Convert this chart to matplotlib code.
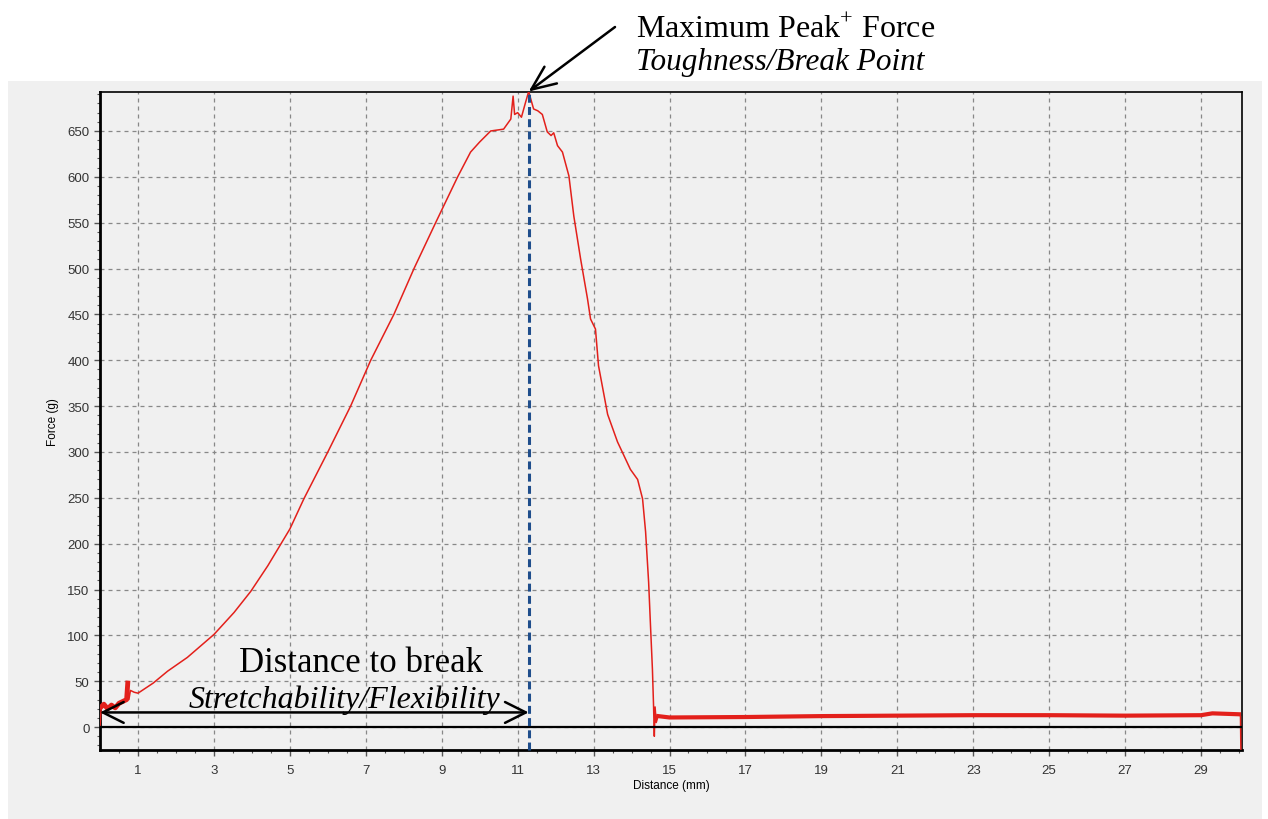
import matplotlib
matplotlib.use('Agg')
from matplotlib import pyplot as plt
from matplotlib.patches import Rectangle
import numpy as np

# force / distance trace
dist = [0, 0.03, 0.1, 0.2, 0.3, 0.4, 0.5, 0.6, 0.7, 0.73, 0.76, 0.8, 0.9, 1.0,
        1.4, 1.78, 2.3, 3.0, 3.53, 3.97, 4.42, 5.0, 5.37, 6.0, 6.6, 7.13, 7.74,
        8.27, 8.84, 9.42, 9.76, 10.0, 10.29, 10.63, 10.82, 10.88, 10.92, 11.0,
        11.1, 11.2, 11.29, 11.42, 11.53, 11.65, 11.78, 11.88, 11.95, 12.05,
        12.18, 12.35, 12.48, 12.66, 12.84, 12.92, 13.05, 13.13, 13.37, 13.63,
        13.97, 14.16, 14.29, 14.37, 14.45, 14.5, 14.55, 14.58, 14.6, 14.62,
        14.65, 14.7, 15.0, 17.0, 19.0, 21.0, 23.0, 25.0, 27.0, 29.0, 29.3,
        30.0, 30.04, 30.05]
force = [0, 22, 25, 20, 24, 21, 26, 28, 30, 48, 30, 40, 38, 37,
         48, 61, 76, 101, 125, 148, 176, 216, 249, 300, 350, 400, 450,
         500, 550, 600, 627, 638, 650, 652, 663, 688, 668, 670,
         665, 680, 693, 674, 672, 668, 649, 645, 648, 634,
         627, 601, 557, 510, 467, 445, 434, 394, 341, 311,
         281, 270, 249, 213, 158, 110, 63, 23, -10, 22,
         5, 12, 10.5, 11, 12, 12.5, 13, 13, 12.5, 13, 15,
         14, 12, -24]

x_ticks = [1, 3, 5, 7, 9, 11, 13, 15, 17, 19, 21, 23, 25, 27, 29]
y_ticks = [0, 50, 100, 150, 200, 250, 300, 350, 400, 450, 500, 550, 600, 650]

peak_x = 11.29
peak_y = 693
arrow_y = 16

plt.rcParams['mathtext.fontset'] = 'custom'
plt.rcParams['mathtext.rm'] = 'Liberation Serif'

fig = plt.figure(figsize=(12.68, 8.2), dpi=100, facecolor='white')
fig.patches.append(Rectangle((8 / 1268, 0), 1254 / 1268, 0.9, transform=fig.transFigure,
                             facecolor='#f0f0f0', edgecolor='none', zorder=-10))

ax = fig.add_axes([0.0789, 0.0841, 0.9006, 0.8025])
ax.set_facecolor('#f0f0f0')

red = '#e3201b'
dist = np.array(dist)
force = np.array(force)
ax.plot(dist, force, color=red, lw=1.1, zorder=3)
# noisy parts look thicker
ax.plot(dist[1:10], force[1:10], color=red, lw=3.5, zorder=3)
ax.plot(dist[69:80], force[69:80], color=red, lw=3.0, zorder=3)

ax.axhline(0, color='black', lw=1.6, zorder=4)

ax.set_xlim(0, 30.08)
ax.set_ylim(-25, 692.5)
ax.set_xticks(x_ticks)
ax.set_xticks(np.arange(0.5, 30.1, 0.5), minor=True)
ax.set_yticks(y_ticks)
ax.set_yticks(np.arange(-20, 692, 10), minor=True)
ax.grid(True, which='major', color='#888888', lw=0.9, linestyle=(0, (3.2, 3.2)))

for lab in ax.get_xticklabels() + ax.get_yticklabels():
    lab.set_fontfamily('Liberation Sans')
ax.tick_params(which='major', length=4, width=1, color='#555555', labelsize=9.5,
               labelcolor='#333333')
ax.tick_params(which='minor', length=2.5, width=0.8, color='#555555')
ax.tick_params(axis='x', pad=6)

for s in ['left', 'bottom']:
    ax.spines[s].set_linewidth(2)
for s in ['top', 'right']:
    ax.spines[s].set_linewidth(1.2)

ax.set_xlabel('Distance (mm)', fontsize=8.5, family='Liberation Sans', labelpad=2)
ax.set_ylabel('Force (g)', fontsize=8.5, family='Liberation Sans', labelpad=6)

# peak marker
ax.plot([peak_x, peak_x], [-25, peak_y], color='#1f4e8c', lw=2.2,
        dashes=(2.6, 1.4), zorder=5, clip_on=False)

ax.annotate('', xy=(0, arrow_y), xytext=(peak_x, arrow_y),
            arrowprops=dict(arrowstyle='<->, head_length=0.6, head_width=0.3',
                            lw=1.8, color='black', mutation_scale=25,
                            shrinkA=0, shrinkB=0), zorder=6)

ax.annotate('', xy=(peak_x, peak_y), xycoords='data',
            xytext=(615 / 1268, 1 - 28 / 820), textcoords='figure fraction',
            arrowprops=dict(arrowstyle='->, head_length=0.7, head_width=0.3',
                            lw=1.8, color='black', mutation_scale=25,
                            shrinkA=0, shrinkB=0), annotation_clip=False)

fig.text(636 / 1268, 1 - 38 / 820, 'Maximum Peak$^{+}$ Force', family='Liberation Serif',
         fontsize=23, ha='left', va='baseline')
fig.text(636 / 1268, 1 - 70 / 820, 'Toughness/Break Point', family='Liberation Serif',
         style='italic', fontsize=22.5, ha='left', va='baseline')
fig.text(361 / 1268, 1 - 672 / 820, 'Distance to break', family='Liberation Serif',
         fontsize=25, ha='center', va='baseline')
fig.text(345 / 1268, 1 - 708 / 820, 'Stretchability/Flexibility', family='Liberation Serif',
         style='italic', fontsize=23, ha='center', va='baseline')

plt.savefig('out.png', dpi=100, facecolor='white')
